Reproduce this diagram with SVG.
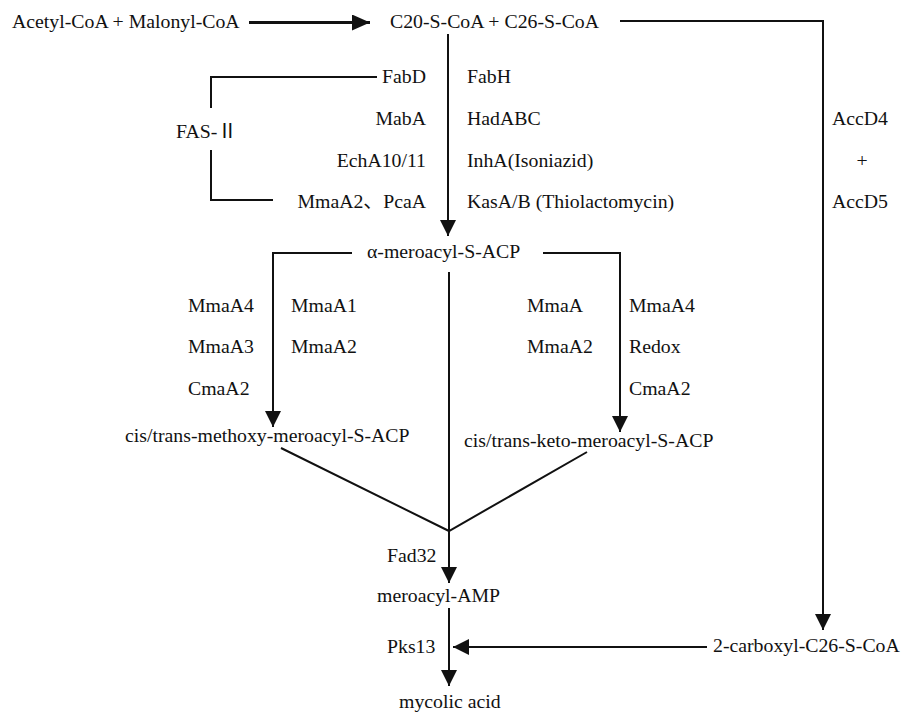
<svg xmlns="http://www.w3.org/2000/svg" width="901" height="713" viewBox="0 0 901 713">
<defs>
<style>
text{font-family:'Liberation Serif','Times New Roman',serif;font-size:19.8px;fill:#111}
.cjk{font-family:'Noto Sans CJK SC',sans-serif}
.e{text-anchor:end}
.m{text-anchor:middle}
.ln{fill:none;stroke:#111;stroke-width:2}
.ar{marker-end:url(#ah)}
</style>
<marker id="ah" markerUnits="userSpaceOnUse" markerWidth="16" markerHeight="16" viewBox="0 0 16 16" refX="16" refY="8" orient="auto">
<path d="M0,0 L16,8 L0,16 z" fill="#111"/>
</marker>
<marker id="ah2" markerUnits="userSpaceOnUse" markerWidth="18" markerHeight="16" viewBox="0 0 18 16" refX="18" refY="8" orient="auto">
<path d="M0,0 L18,8 L0,16 z" fill="#111"/>
</marker>
</defs>
<rect width="901" height="713" fill="#fff"/>
<g id="connectors">
<path class="ln" d="M249,22.5 H370" style="stroke-width:3;marker-end:url(#ah2)"/>
<path class="ln ar" d="M620,21 H823 V630"/>
<path class="ln ar" d="M448,34 V236"/>
<path class="ln" d="M377,77 H211 V108 M211,150 V200 H273"/>
<path class="ln ar" d="M352,253 H273 V427"/>
<path class="ln ar" d="M543,253 H620 V432"/>
<path class="ln" d="M449,272 V531 M281,448 L449,531 L587,452"/>
<path class="ln ar" d="M449,531 V583"/>
<path class="ln ar" d="M449,608 V686"/>
<path class="ln ar" d="M707,647 H453"/>
</g>
<g id="n-acetyl"><text x="12" y="28">Acetyl-CoA + Malonyl-CoA</text></g>
<g id="n-c20"><text x="390" y="28">C20-S-CoA + C26-S-CoA</text></g>
<g id="n-fas">
<text x="426" y="83" class="e">FabD</text>
<text x="426" y="125" class="e">MabA</text>
<text x="426" y="167" class="e">EchA10/11</text>
<text x="426" y="208" class="e">MmaA2<tspan class="cjk">、</tspan>PcaA</text>
<text x="467" y="83">FabH</text>
<text x="467" y="125">HadABC</text>
<text x="467" y="167">InhA(Isoniazid)</text>
<text x="467" y="208">KasA/B (Thiolactomycin)</text>
</g>
<g id="n-fas2"><text x="176" y="138">FAS-<tspan class="cjk">Ⅱ</tspan></text></g>
<g id="n-acc">
<text x="860" y="125" class="m">AccD4</text>
<text x="862" y="167" class="m">+</text>
<text x="860" y="208" class="m">AccD5</text>
</g>
<g id="n-alpha"><text x="367" y="258">α-meroacyl-S-ACP</text></g>
<g id="n-left-enz">
<text x="188" y="312">MmaA4</text>
<text x="188" y="353">MmaA3</text>
<text x="188" y="395">CmaA2</text>
<text x="291" y="312">MmaA1</text>
<text x="291" y="353">MmaA2</text>
</g>
<g id="n-right-enz">
<text x="527" y="312">MmaA</text>
<text x="527" y="353">MmaA2</text>
<text x="629" y="312">MmaA4</text>
<text x="629" y="353">Redox</text>
<text x="629" y="395">CmaA2</text>
</g>
<g id="n-methoxy"><text x="125" y="442">cis/trans-methoxy-meroacyl-S-ACP</text></g>
<g id="n-keto"><text x="464" y="447">cis/trans-keto-meroacyl-S-ACP</text></g>
<g id="n-fad32"><text x="387" y="562">Fad32</text></g>
<g id="n-amp"><text x="377" y="602">meroacyl-AMP</text></g>
<g id="n-pks13"><text x="387" y="653">Pks13</text></g>
<g id="n-carboxyl"><text x="713" y="652">2-carboxyl-C26-S-CoA</text></g>
<g id="n-mycolic"><text x="399" y="708">mycolic acid</text></g>
</svg>
